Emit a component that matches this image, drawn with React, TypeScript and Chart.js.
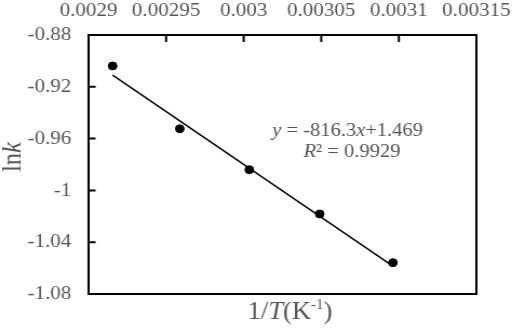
import React, { useEffect, useRef } from "react";
import { Chart, registerables } from "chart.js";

Chart.register(...registerables);

// ---- data ----
const invT = [0.0029155, 0.0029588, 0.0030036, 0.003049, 0.0030962];
const lnk = [-0.9039, -0.9524, -0.984, -1.0182, -1.0558];
const trendX = [0.0029155, 0.0030962];
const trendY = [-0.911, -1.0584];
const xTickValues = [0.0029, 0.00295, 0.003, 0.00305, 0.0031, 0.00315];
const xTickLabels = ["0.0029", "0.00295", "0.003", "0.00305", "0.0031", "0.00315"];
const yTickValues = [-1.08, -1.04, -1, -0.96, -0.92, -0.88];
const yTickLabels = ["-1.08", "-1.04", "-1", "-0.96", "-0.92", "-0.88"];
const equationLine = [["y", true], [" = -816.3", false], ["x", true], ["+1.469", false]] as [string, boolean][];
const r2Line = [["R", true], ["² = 0.9929", false]] as [string, boolean][];
const xTitleMain = ["1/", "T", "(K"];
const xTitleSup = "-1";
const xTitleEnd = ")";
const yTitleParts = ["ln", "k"];

const SERIF = "'Liberation Serif', 'Times New Roman', serif";
const GRAY = "#555555";
const CW = 474; // internal canvas width (displayed stretched to 512)
const CH = 334;

function drawSegments(ctx: CanvasRenderingContext2D, segs: [string, boolean][], x: number, y: number, size: number) {
  let cx = x;
  for (const [t, it] of segs) {
    ctx.font = `${it ? "italic " : ""}${size}px ${SERIF}`;
    ctx.fillText(t, cx, y);
    cx += ctx.measureText(t).width;
  }
}

const decorPlugin = {
  id: "decor",
  afterDraw(chart: any) {
    const { ctx, chartArea: a, scales } = chart;
    const xs = scales.x;
    const ys = scales.y;
    ctx.save();
    // frame
    ctx.strokeStyle = "#000";
    ctx.lineWidth = 2;
    ctx.strokeRect(a.left, a.top, a.right - a.left, a.bottom - a.top);
    // inner tick marks
    ctx.beginPath();
    xTickValues.slice(1, -1).forEach((v) => {
      const px = xs.getPixelForValue(v);
      ctx.moveTo(px, a.top);
      ctx.lineTo(px, a.top + 7);
    });
    yTickValues.slice(1, -1).forEach((v) => {
      const py = ys.getPixelForValue(v);
      ctx.moveTo(a.left, py);
      ctx.lineTo(a.left + 6.5, py);
    });
    ctx.stroke();

    ctx.fillStyle = GRAY;
    ctx.textBaseline = "alphabetic";
    ctx.textAlign = "left";
    // equation annotation
    drawSegments(ctx, equationLine, 252, 136, 19);
    drawSegments(ctx, r2Line, 281, 157, 19);

    // x title
    const tsize = 24.5;
    const widths: number[] = [];
    xTitleMain.forEach((t, i) => {
      ctx.font = `${i === 1 ? "italic " : ""}${tsize}px ${SERIF}`;
      widths.push(ctx.measureText(t).width);
    });
    ctx.font = `14px ${SERIF}`;
    const supW = ctx.measureText(xTitleSup).width;
    ctx.font = `${tsize}px ${SERIF}`;
    const endW = ctx.measureText(xTitleEnd).width;
    const total = widths.reduce((s, w) => s + w, 0) + supW + endW;
    let cx = 268.5 - total / 2;
    const by = 319;
    xTitleMain.forEach((t, i) => {
      ctx.font = `${i === 1 ? "italic " : ""}${tsize}px ${SERIF}`;
      ctx.fillText(t, cx, by);
      cx += widths[i];
    });
    ctx.font = `14px ${SERIF}`;
    ctx.fillText(xTitleSup, cx, by - 10);
    cx += supW;
    ctx.font = `${tsize}px ${SERIF}`;
    ctx.fillText(xTitleEnd, cx, by);

    // y title (rotated)
    ctx.save();
    ctx.translate(19, 157);
    ctx.rotate(-Math.PI / 2);
    ctx.font = `${tsize}px ${SERIF}`;
    const w0 = ctx.measureText(yTitleParts[0]).width;
    ctx.font = `italic ${tsize}px ${SERIF}`;
    const w1 = ctx.measureText(yTitleParts[1]).width;
    const sx = -(w0 + w1) / 2;
    ctx.font = `${tsize}px ${SERIF}`;
    ctx.fillText(yTitleParts[0], sx, 0);
    ctx.font = `italic ${tsize}px ${SERIF}`;
    ctx.fillText(yTitleParts[1], sx + w0, 0);
    ctx.restore();

    ctx.restore();
  },
};

export default function App() {
  const ref = useRef<HTMLCanvasElement | null>(null);
  useEffect(() => {
    if (!ref.current) return;
    const tickFont = { family: SERIF, size: 19.5 };
    const chart = new Chart(ref.current, {
      type: "scatter",
      data: {
        datasets: [
          {
            type: "line",
            data: trendX.map((x, i) => ({ x, y: trendY[i] })),
            borderColor: "#000",
            borderWidth: 1.5,
            pointRadius: 0,
            fill: false,
            order: 2,
          } as any,
          {
            data: invT.map((x, i) => ({ x, y: lnk[i] })),
            backgroundColor: "#000",
            borderColor: "#000",
            pointRadius: 4,
            pointHoverRadius: 4,
            order: 1,
          },
        ],
      },
      options: {
        animation: false,
        responsive: false,
        devicePixelRatio: 1,
        layout: { padding: { left: 0, top: 0, right: 33, bottom: 40 } },
        plugins: { legend: { display: false }, tooltip: { enabled: false } },
        scales: {
          x: {
            type: "linear",
            position: "top",
            min: 0.0029,
            max: 0.00315,
            afterBuildTicks: (s: any) => {
              s.ticks = xTickValues.map((v) => ({ value: v }));
            },
            afterFit: (s: any) => {
              s.height = 35;
              s.paddingLeft = 0;
              s.paddingRight = 0;
            },
            ticks: {
              font: tickFont,
              color: GRAY,
              padding: 12,
              maxRotation: 0,
              autoSkip: false,
              callback: (_v: any, i: number) => xTickLabels[i],
            },
            grid: { display: false, drawTicks: false },
            border: { display: false },
          },
          y: {
            type: "linear",
            min: -1.08,
            max: -0.88,
            afterBuildTicks: (s: any) => {
              s.ticks = yTickValues.map((v) => ({ value: v }));
            },
            afterFit: (s: any) => {
              s.width = 82;
              s.paddingTop = 0;
              s.paddingBottom = 0;
            },
            ticks: {
              font: tickFont,
              color: GRAY,
              padding: 16,
              autoSkip: false,
              callback: (_v: any, i: number) => yTickLabels[i],
            },
            grid: { display: false, drawTicks: false },
            border: { display: false },
          },
        },
      },
      plugins: [decorPlugin],
    });
    return () => chart.destroy();
  }, []);
  return (
    <div style={{ position: "absolute", left: 0, top: 0, width: 512, height: 334, background: "#fff" }}>
      <canvas ref={ref} width={CW} height={CH} style={{ width: 512, height: 334, display: "block" }} />
    </div>
  );
}
